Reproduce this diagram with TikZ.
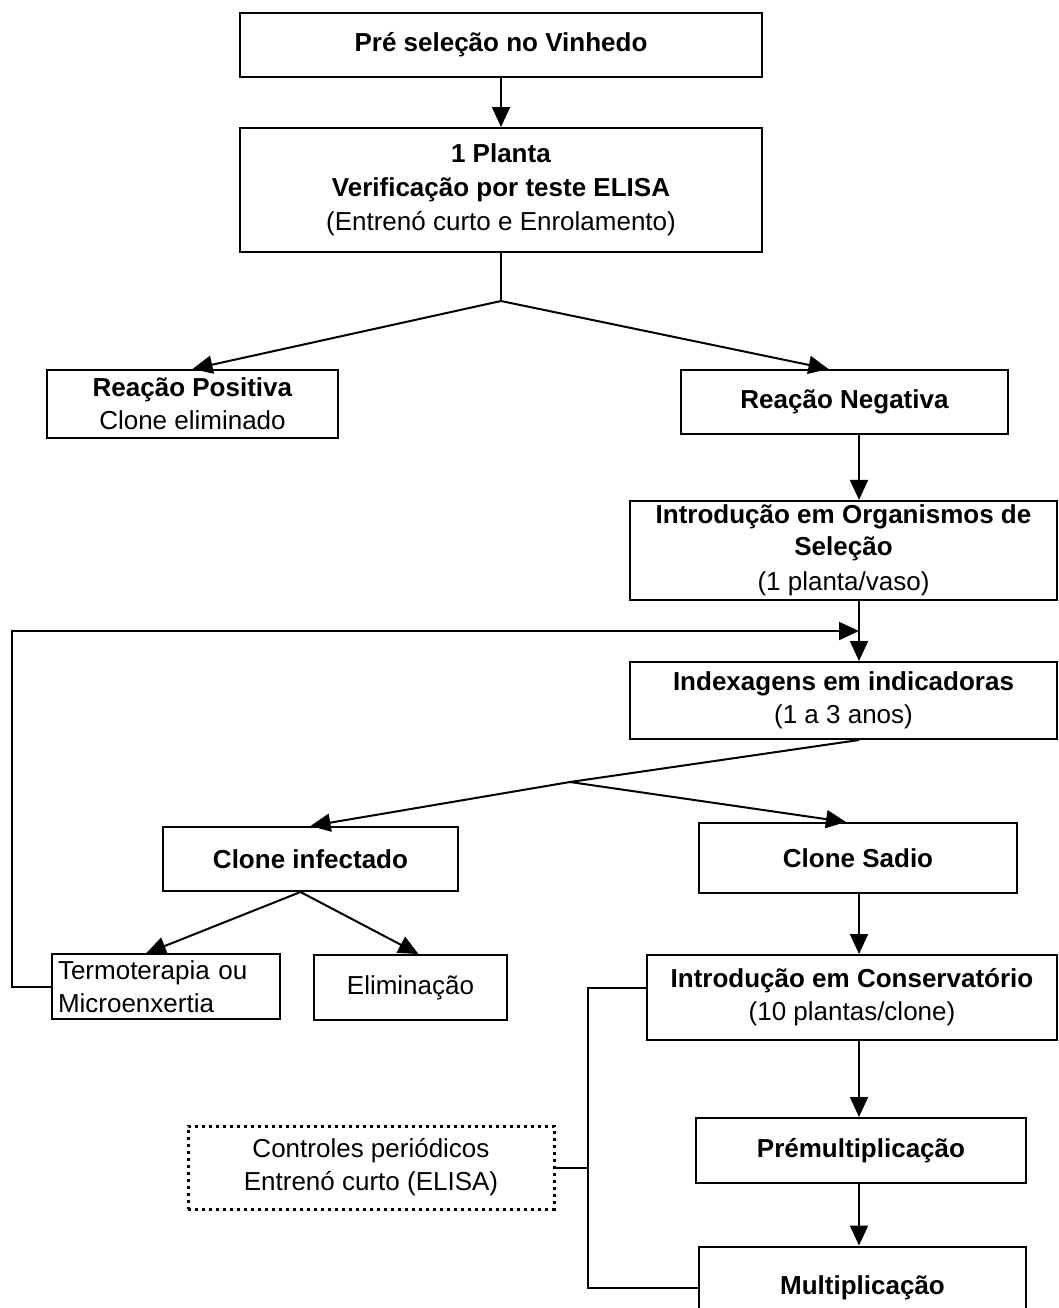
\documentclass[tikz,border=0pt]{standalone}
\usepackage{fontspec}
\setmainfont{Liberation Sans}
\usetikzlibrary{arrows.meta}

\begin{document}
\begin{tikzpicture}[
    x=0.5pt,y=-0.5pt,
    font=\fontsize{13pt}{16.5pt}\selectfont,
    box/.style={draw=black,line width=1pt,align=center,inner sep=2pt},
    hd/.style={box,font=\fontsize{13pt}{16.5pt}\selectfont\bfseries},
    ctl/.style={draw=black,line width=1.5pt,dotted,align=center,inner sep=2pt},
    arr/.style={-{Triangle[length=10pt,width=9pt]},draw=black,line width=1pt},
    ln/.style={draw=black,line width=1pt}
]
    \useasboundingbox (0,0) rectangle (1059,1308);
    \coordinate (ax) at (859,0);
    \coordinate (br) at (588,0);
    \coordinate (fb) at (12,631);
    \coordinate (j1) at (501,301);
    \coordinate (j2) at (570,782);

    \node[hd,minimum width=261pt,minimum height=32pt] (pre) at (501,45) {Pré seleção no Vinhedo};
    \node[box,minimum width=261pt,minimum height=62pt,font=\fontsize{13pt}{17pt}\selectfont] (planta) at (501,190)
        {\textbf{1 Planta}\\\textbf{Verificação por teste ELISA}\\(Entrenó curto e Enrolamento)};
    \node[box,minimum width=145.5pt,minimum height=34pt] (pos) at (192.5,404) {\textbf{Reação Positiva}\\Clone eliminado};
    \node[hd,minimum width=163.5pt,minimum height=32pt] (neg) at (844.5,402) {Reação Negativa};
    \node[box,minimum width=213.5pt,minimum height=47.5pt,font=\fontsize{13pt}{16pt}\selectfont] (org) at (843.5,550.5)
        {\textbf{Introdução em Organismos de}\\\textbf{Seleção}\\[1.5pt](1 planta/vaso)};
    \node[box,minimum width=213.5pt,minimum height=38.5pt] (index) at (843.5,700.5) {\textbf{Indexagens em indicadoras}\\(1 a 3 anos)};
    \node[hd,minimum width=147.5pt,minimum height=32pt] (inf) at (310.5,859) {Clone infectado};
    \node[hd,minimum width=159pt,minimum height=35pt] (sadio) at (858,858) {Clone Sadio};
    \node[box,align=left,text width=108pt,inner sep=3pt,minimum height=31.5pt] (termo) at (166,986.5) {Termoterapia ou\\Microenxertia};
    \node[box,minimum width=96.5pt,minimum height=32.5pt] (elim) at (410.5,987.5) {Eliminação};
    \node[box,minimum width=205pt,minimum height=42.5pt] (cons) at (852,997.5) {\textbf{Introdução em Conservatório}\\(10 plantas/clone)};
    \node[ctl,minimum width=183pt,minimum height=41.5pt] (ctrl) at (371,1167.5) {Controles periódicos\\Entrenó curto (ELISA)};
    \node[hd,minimum width=165pt,minimum height=32.5pt] (premult) at (861,1150.5) {Prémultiplicação};
    \begin{scope}
        \clip (0,0) rectangle (1059,1308);
        \node[hd,minimum width=163.5pt,minimum height=41.5pt] (mult) at (862.5,1288) {Multiplicação};
    \end{scope}

    \draw[arr] (pre) -- (planta);
    \draw[ln] (planta.south) -- (j1);
    \draw[arr] (j1) -- (pos.north);
    \draw[arr] (j1) -- ([xshift=-8pt]neg.north);
    \draw[arr] (neg.south -| ax) -- (org.north -| ax);
    \draw[arr] (org.south -| ax) -- (index.north -| ax);
    \draw[arr] (termo.west) -| (fb) -- (fb -| ax);

    \draw[ln] (index.south -| ax) -- (j2);
    \draw[arr] (j2) -- (inf.north);
    \draw[arr] (j2) -- ([xshift=-6pt]sadio.north);
    \draw[arr] ([xshift=-5pt]inf.south) -- ([xshift=-10pt]termo.north);
    \draw[arr] ([xshift=-5pt]inf.south) -- ([xshift=4pt]elim.north);

    \draw[arr] (sadio.south -| ax) -- (cons.north -| ax);
    \draw[arr] (cons.south -| ax) -- (premult.north -| ax);
    \draw[arr] (premult.south -| ax) -- (mult.north -| ax);

    \draw[ln] ([yshift=5pt]cons.west) -- ([yshift=5pt]cons.west -| br) -- (mult.west -| br) -- (mult.west);
    \draw[ln] (ctrl.east) -- (ctrl.east -| br);
\end{tikzpicture}
\end{document}
